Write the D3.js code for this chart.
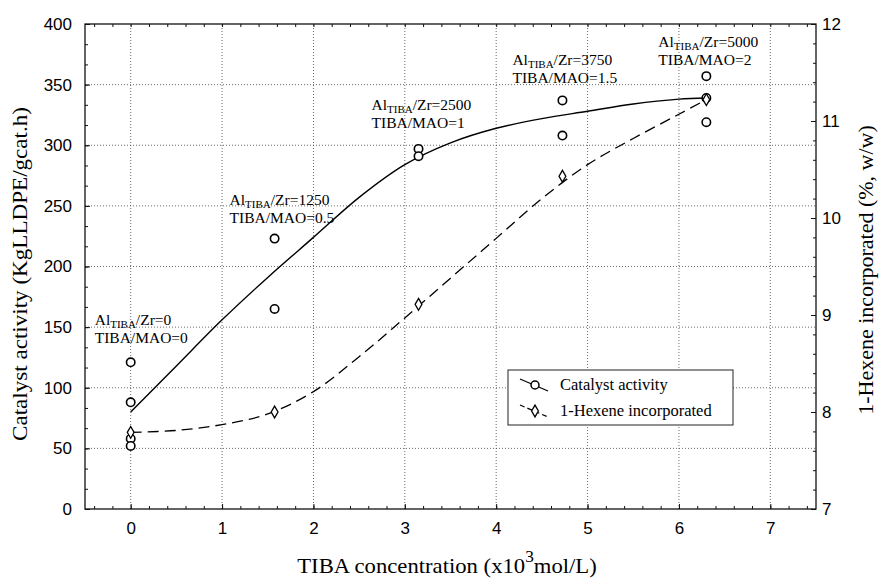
<!DOCTYPE html>
<html>
<head>
<meta charset="utf-8">
<script src="https://cdn.jsdelivr.net/npm/d3@7"></script>
<style>
  body { margin: 0; background: #fff; }
  svg { display: block; }
</style>
</head>
<body>
<svg></svg>
<script>
// measured points (TIBA conc x10^-3 mol/L)
const concentration = [0, 1.575, 3.15, 4.725, 6.3];

// catalyst activity, repeated runs at each concentration
const activityX = [0, 0, 0, 0, 1.575, 1.575, 3.15, 3.15, 4.725, 4.725, 6.3, 6.3, 6.3];
const activityY = [121, 88, 58, 52, 223, 165, 297, 291, 337, 308, 357, 339, 319];

// 1-hexene incorporated (% w/w), right axis
const hexene = [7.79, 8.0, 9.11, 10.43, 11.22];

// fitted curves
const fitX = [0, 0.5, 1, 1.5, 2, 2.5, 3, 3.5, 4, 4.5, 5, 5.5, 6, 6.3];
const activityFit = [80, 118, 156, 191, 224, 257, 284, 302, 314, 322, 328, 334, 338, 339];
const hexeneFit = [7.79, 7.81, 7.87, 7.98, 8.21, 8.57, 8.97, 9.38, 9.79, 10.2, 10.55, 10.82, 11.07, 11.22];

// annotation texts
const ratioLabels = ['0', '1250', '2500', '3750', '5000'];
const maoLabels = ['0', '0.5', '1', '1.5', '2'];

const xTicks = [0, 1, 2, 3, 4, 5, 6, 7];
const leftTicks = [0, 50, 100, 150, 200, 250, 300, 350, 400];
const rightTicks = [7, 8, 9, 10, 11, 12];

const legendLabels = ['Catalyst activity', '1-Hexene incorporated'];

const width = 880;
const height = 578;
const margin = { left: 85, right: 64, top: 24, bottom: 69 };

const sansFont = '"Liberation Sans", Arial, sans-serif';
const serifFont = '"Liberation Serif", "Times New Roman", serif';

let svg = d3.select('svg')
    .attr('width', width)
    .attr('height', height)

let xScale = d3.scaleLinear()
    .domain([-0.5, 7.5])
    .range([margin.left, width - margin.right])

let yScale = d3.scaleLinear()
    .domain([0, 400])
    .range([height - margin.bottom, margin.top])

let y2Scale = d3.scaleLinear()
    .domain([7, 12])
    .range([height - margin.bottom, margin.top])

let x0 = margin.left, x1 = width - margin.right;
let y0 = height - margin.bottom, y1 = margin.top;

// grid
let grid = svg.append('g')
    .attr('stroke', '#444')
    .attr('stroke-width', 0.8)
    .attr('stroke-dasharray', '1,2')

grid.selectAll('.vgrid')
    .data(xTicks)
    .enter()
    .append('line')
    .attr('x1', d => xScale(d))
    .attr('x2', d => xScale(d))
    .attr('y1', y0)
    .attr('y2', y1)

grid.selectAll('.hgrid')
    .data(leftTicks.slice(1, -1))
    .enter()
    .append('line')
    .attr('x1', x0)
    .attr('x2', x1)
    .attr('y1', d => yScale(d))
    .attr('y2', d => yScale(d))

// axes
let styleAxis = (g) => {
    g.select('.domain').remove()
    g.selectAll('line').attr('stroke', '#111').attr('stroke-width', 1)
    g.selectAll('text')
        .attr('font-family', sansFont)
        .attr('font-size', 17)
        .attr('fill', '#000')
}

let minorX = d3.range(-0.4, 7.45, 0.2)
let minorLeft = d3.range(0, 400.1, 50 / 3)
let minorRight = d3.range(7, 12.05, 0.2)

svg.append('g')
    .attr('transform', 'translate(0,' + y0 + ')')
    .call(d3.axisBottom(xScale).tickValues(minorX).tickSize(-3).tickFormat(''))
    .call(styleAxis)

svg.append('g')
    .attr('transform', 'translate(0,' + y0 + ')')
    .call(d3.axisBottom(xScale).tickValues(xTicks).tickSize(-5).tickPadding(13).tickFormat(d3.format('d')))
    .call(styleAxis)

svg.append('g')
    .attr('transform', 'translate(0,' + y1 + ')')
    .call(d3.axisTop(xScale).tickValues(minorX).tickSize(-3).tickFormat(''))
    .call(styleAxis)

svg.append('g')
    .attr('transform', 'translate(' + x0 + ',0)')
    .call(d3.axisLeft(yScale).tickValues(minorLeft).tickSize(-3).tickFormat(''))
    .call(styleAxis)

svg.append('g')
    .attr('transform', 'translate(' + x0 + ',0)')
    .call(d3.axisLeft(yScale).tickValues(leftTicks).tickSize(-5).tickPadding(13).tickFormat(d3.format('d')))
    .call(styleAxis)

svg.append('g')
    .attr('transform', 'translate(' + x1 + ',0)')
    .call(d3.axisRight(y2Scale).tickValues(minorRight).tickSize(-3).tickFormat(''))
    .call(styleAxis)

svg.append('g')
    .attr('transform', 'translate(' + x1 + ',0)')
    .call(d3.axisRight(y2Scale).tickValues(rightTicks).tickSize(-5).tickPadding(6).tickFormat(d3.format('d')))
    .call(styleAxis)

// frame
svg.append('rect')
    .attr('x', x0)
    .attr('y', y1)
    .attr('width', x1 - x0)
    .attr('height', y0 - y1)
    .attr('fill', 'none')
    .attr('stroke', '#111')
    .attr('stroke-width', 1.3)

// fitted curves
let activityLine = d3.line()
    .x((d, i) => xScale(fitX[i]))
    .y(d => yScale(d))
    .curve(d3.curveCatmullRom.alpha(0.5))

let hexeneLine = d3.line()
    .x((d, i) => xScale(fitX[i]))
    .y(d => y2Scale(d))
    .curve(d3.curveCatmullRom.alpha(0.5))

svg.append('path')
    .attr('d', activityLine(activityFit))
    .attr('fill', 'none')
    .attr('stroke', '#000')
    .attr('stroke-width', 1.4)

svg.append('path')
    .attr('d', hexeneLine(hexeneFit))
    .attr('fill', 'none')
    .attr('stroke', '#000')
    .attr('stroke-width', 1.3)
    .attr('stroke-dasharray', '11,6')

// markers
let diamond = d3.symbol().type(d3.symbolDiamond).size(40)

svg.selectAll('.act')
    .data(activityY)
    .enter()
    .append('circle')
    .attr('cx', (d, i) => xScale(activityX[i]))
    .attr('cy', d => yScale(d))
    .attr('r', 4.2)
    .attr('fill', '#fff')
    .attr('stroke', '#000')
    .attr('stroke-width', 1.6)

svg.selectAll('.hex')
    .data(hexene)
    .enter()
    .append('path')
    .attr('d', diamond)
    .attr('transform', (d, i) => 'translate(' + xScale(concentration[i]) + ',' + y2Scale(d) + ')')
    .attr('fill', '#fff')
    .attr('stroke', '#000')
    .attr('stroke-width', 1.3)

// annotations, placed relative to each concentration
const annotOffset = [-36, -45, -47, -50, -48];
const annotBaseline = [325, 205, 110, 65, 47];

ratioLabels.forEach((r, i) => {
    let tx = xScale(concentration[i]) + annotOffset[i];
    let t = svg.append('text')
        .attr('x', tx)
        .attr('y', annotBaseline[i])
        .attr('font-family', serifFont)
        .attr('font-size', 15.5)
    t.append('tspan').text('Al')
    t.append('tspan').attr('font-size', 11).attr('dy', 3).text('TIBA')
    t.append('tspan').attr('dy', -3).text('/Zr=' + r)

    svg.append('text')
        .attr('x', tx)
        .attr('y', annotBaseline[i] + 18)
        .attr('font-family', serifFont)
        .attr('font-size', 15.5)
        .text('TIBA/MAO=' + maoLabels[i])
})

// legend
let legend = svg.append('g').attr('transform', 'translate(508,370)')

legend.append('rect')
    .attr('width', 225)
    .attr('height', 55)
    .attr('fill', '#fff')
    .attr('stroke', '#222')
    .attr('stroke-width', 1)

legendLabels.forEach((label, i) => {
    let ly = 15 + i * 26;
    legend.append('line')
        .attr('x1', 12).attr('y1', ly - 6)
        .attr('x2', 40).attr('y2', ly + 6)
        .attr('stroke', '#000')
        .attr('stroke-width', 1.2)
        .attr('stroke-dasharray', i === 0 ? null : '5,3')
    if (i === 0) {
        legend.append('circle')
            .attr('cx', 27).attr('cy', ly).attr('r', 4)
            .attr('fill', '#fff').attr('stroke', '#000').attr('stroke-width', 1.5)
    } else {
        legend.append('path')
            .attr('d', diamond)
            .attr('transform', 'translate(27,' + ly + ')')
            .attr('fill', '#fff').attr('stroke', '#000').attr('stroke-width', 1.3)
    }
    legend.append('text')
        .attr('x', 52)
        .attr('y', ly + 5)
        .attr('font-family', serifFont)
        .attr('font-size', 16.5)
        .text(label)
})

// axis titles
svg.append('text')
    .attr('transform', 'translate(27,274) rotate(-90) scale(1.1,1)')
    .attr('text-anchor', 'middle')
    .attr('font-family', serifFont)
    .attr('font-size', 21)
    .text('Catalyst activity (KgLLDPE/gcat.h)')

svg.append('text')
    .attr('transform', 'translate(873,270) rotate(-90) scale(1.1,1)')
    .attr('text-anchor', 'middle')
    .attr('font-family', serifFont)
    .attr('font-size', 20)
    .text('1-Hexene incorporated (%, w/w)')

let xTitle = svg.append('text')
    .attr('transform', 'translate(447,573) scale(1.08,1)')
    .attr('text-anchor', 'middle')
    .attr('font-family', serifFont)
    .attr('font-size', 21)
xTitle.append('tspan').text('TIBA concentration (x10')
xTitle.append('tspan').attr('dx', 0).attr('dy', -11).attr('font-size', 16).text('3')
xTitle.append('tspan').attr('dy', 11).text('mol/L)')
</script>
</body>
</html>
